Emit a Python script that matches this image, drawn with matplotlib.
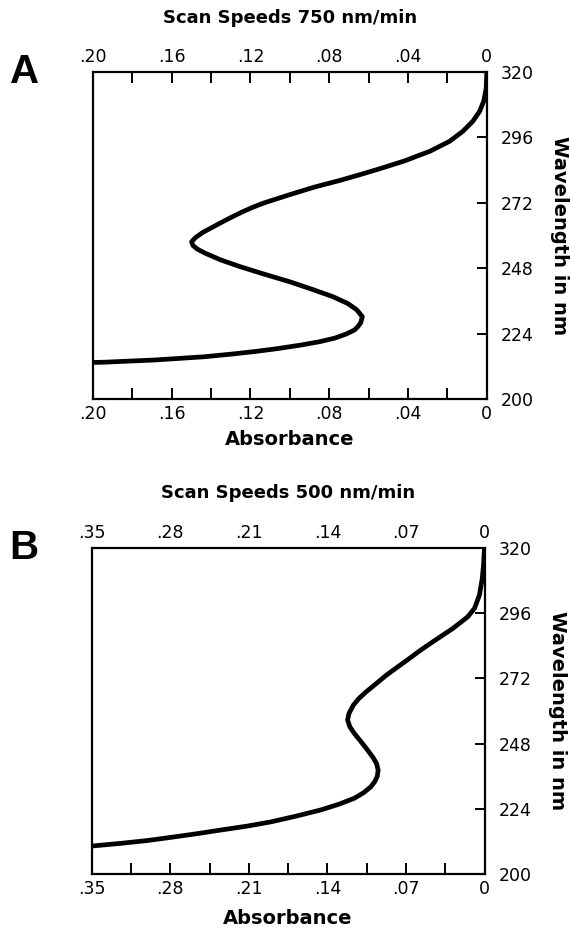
import numpy as np
import matplotlib
matplotlib.use("Agg")
import matplotlib.pyplot as plt
from matplotlib.ticker import MultipleLocator, FuncFormatter

plt.rcParams['font.family'] = ['DejaVu Sans']

# Panel A: scan speed 750 nm/min (wavelength nm, absorbance)
wave_a = [320.0, 314.0, 309.4, 305.6, 301.9, 298.2, 294.6, 290.9, 289.1, 287.4,
          285.9, 284.5, 282.3, 280.2, 277.8, 275.0, 271.8, 270.2, 268.5, 266.5,
          264.5, 261.2, 259.3, 257.7, 256.3, 255.0, 253.5, 251.0, 248.6, 245.8,
          243.0, 240.2, 237.5, 235.0, 232.7, 230.2, 228.0, 226.5, 225.3, 223.8,
          222.3, 221.0, 219.8, 218.5, 217.4, 216.4, 215.5, 214.9, 214.3, 213.9,
          213.5, 213.4]
abs_a = [0.0, 0.0003, 0.0015, 0.0036, 0.0071, 0.0122, 0.0188, 0.0289, 0.0355, 0.0416,
         0.0482, 0.0543, 0.0645, 0.0746, 0.0873, 0.1000, 0.1137, 0.1193, 0.1246, 0.1302,
         0.1355, 0.1440, 0.1478, 0.1499, 0.1492, 0.1470, 0.1430, 0.1350, 0.1254, 0.1130,
         0.1000, 0.0885, 0.0780, 0.0705, 0.0660, 0.0632, 0.0640, 0.0655, 0.0672, 0.0715,
         0.0773, 0.0850, 0.0943, 0.1060, 0.1179, 0.1305, 0.1433, 0.1560, 0.1687, 0.1815,
         0.1941, 0.2000]

# Panel B: scan speed 500 nm/min
wave_b = [320.0, 314.0, 308.8, 302.7, 297.8, 294.7, 290.4, 285.5, 282.4, 279.4,
          276.2, 273.2, 270.1, 267.1, 264.6, 262.2, 259.1, 256.7, 254.2, 251.8,
          248.7, 245.6, 243.0, 240.7, 238.3, 236.0, 234.0, 232.1, 230.0, 227.9,
          225.8, 223.6, 221.4, 219.2, 217.6, 216.2, 214.8, 213.5, 212.3, 211.3,
          210.3]
abs_b = [0.0, 0.0008, 0.0020, 0.0045, 0.0089, 0.0149, 0.0282, 0.0460, 0.0570, 0.0668,
         0.0775, 0.0875, 0.0965, 0.1054, 0.1120, 0.1168, 0.1208, 0.1220, 0.1200, 0.1161,
         0.1100, 0.1042, 0.0995, 0.0962, 0.0948, 0.0955, 0.0978, 0.1013, 0.1075, 0.1160,
         0.1290, 0.1458, 0.1670, 0.1903, 0.2120, 0.2349, 0.2570, 0.2794, 0.3010, 0.3239,
         0.3500]

wave_ticks = [200, 224, 248, 272, 296, 320]

panels = [
    dict(letter='A', title='Scan Speeds 750 nm/min', w=wave_a, a=abs_a,
         xmax=0.20, major=0.04, minor=0.02, rect=[0.163, 0.571, 0.691, 0.3516],
         top_ticks=True, title_y=0.9806, xlab_y=-0.125),
    dict(letter='B', title='Scan Speeds 500 nm/min', w=wave_b, a=abs_b,
         xmax=0.35, major=0.07, minor=0.035, rect=[0.161, 0.0602, 0.689, 0.3505],
         top_ticks=False, title_y=0.4699, xlab_y=-0.135),
]


def abs_label(v, pos):
    if abs(v) < 1e-9:
        return '0'
    return '{:.2f}'.format(v).lstrip('0')


fig = plt.figure(figsize=(5.7, 9.3), dpi=100)

for p in panels:
    ax = fig.add_axes(p['rect'])
    ax.plot(p['a'], p['w'], color='black', lw=3.4, solid_joinstyle='round',
            solid_capstyle='butt')
    ax.set_xlim(p['xmax'], 0)
    ax.set_ylim(200, 320)

    ax.xaxis.set_major_locator(MultipleLocator(p['major']))
    ax.xaxis.set_minor_locator(MultipleLocator(p['minor']))
    ax.xaxis.set_major_formatter(FuncFormatter(abs_label))
    ax.set_yticks(wave_ticks)
    ax.yaxis.tick_right()

    for s in ax.spines.values():
        s.set_linewidth(1.6)

    ax.tick_params(axis='x', which='both', direction='in', length=8, width=1.4,
                   bottom=True, top=p['top_ticks'], labelbottom=True, labeltop=True,
                   labelsize=12.5, pad=4)
    ax.tick_params(axis='x', which='minor', labelbottom=False, labeltop=False)
    ax.tick_params(axis='y', direction='in', length=7, width=1.4, left=False,
                   right=True, labelleft=False, labelright=True, labelsize=12.5, pad=10)

    ax.set_xlabel('Absorbance', fontsize=14, fontweight='bold', va='center')
    ax.xaxis.set_label_coords(0.5, p['xlab_y'])
    ax.yaxis.set_label_position('right')
    ax.set_ylabel('Wavelength in nm', fontsize=14, fontweight='bold', rotation=-90,
                  va='center')
    ax.yaxis.set_label_coords(1.185, 0.5)

    bb = ax.get_position()
    fig.text((bb.x0 + bb.x1) / 2, p['title_y'], p['title'], fontsize=13,
             fontweight='bold', ha='center', va='center')
    ax.text(-0.173, 1.0, p['letter'], transform=ax.transAxes, fontsize=29,
            fontweight='bold', family='Liberation Sans', ha='center', va='center')

fig.savefig('out.png', dpi=100)
